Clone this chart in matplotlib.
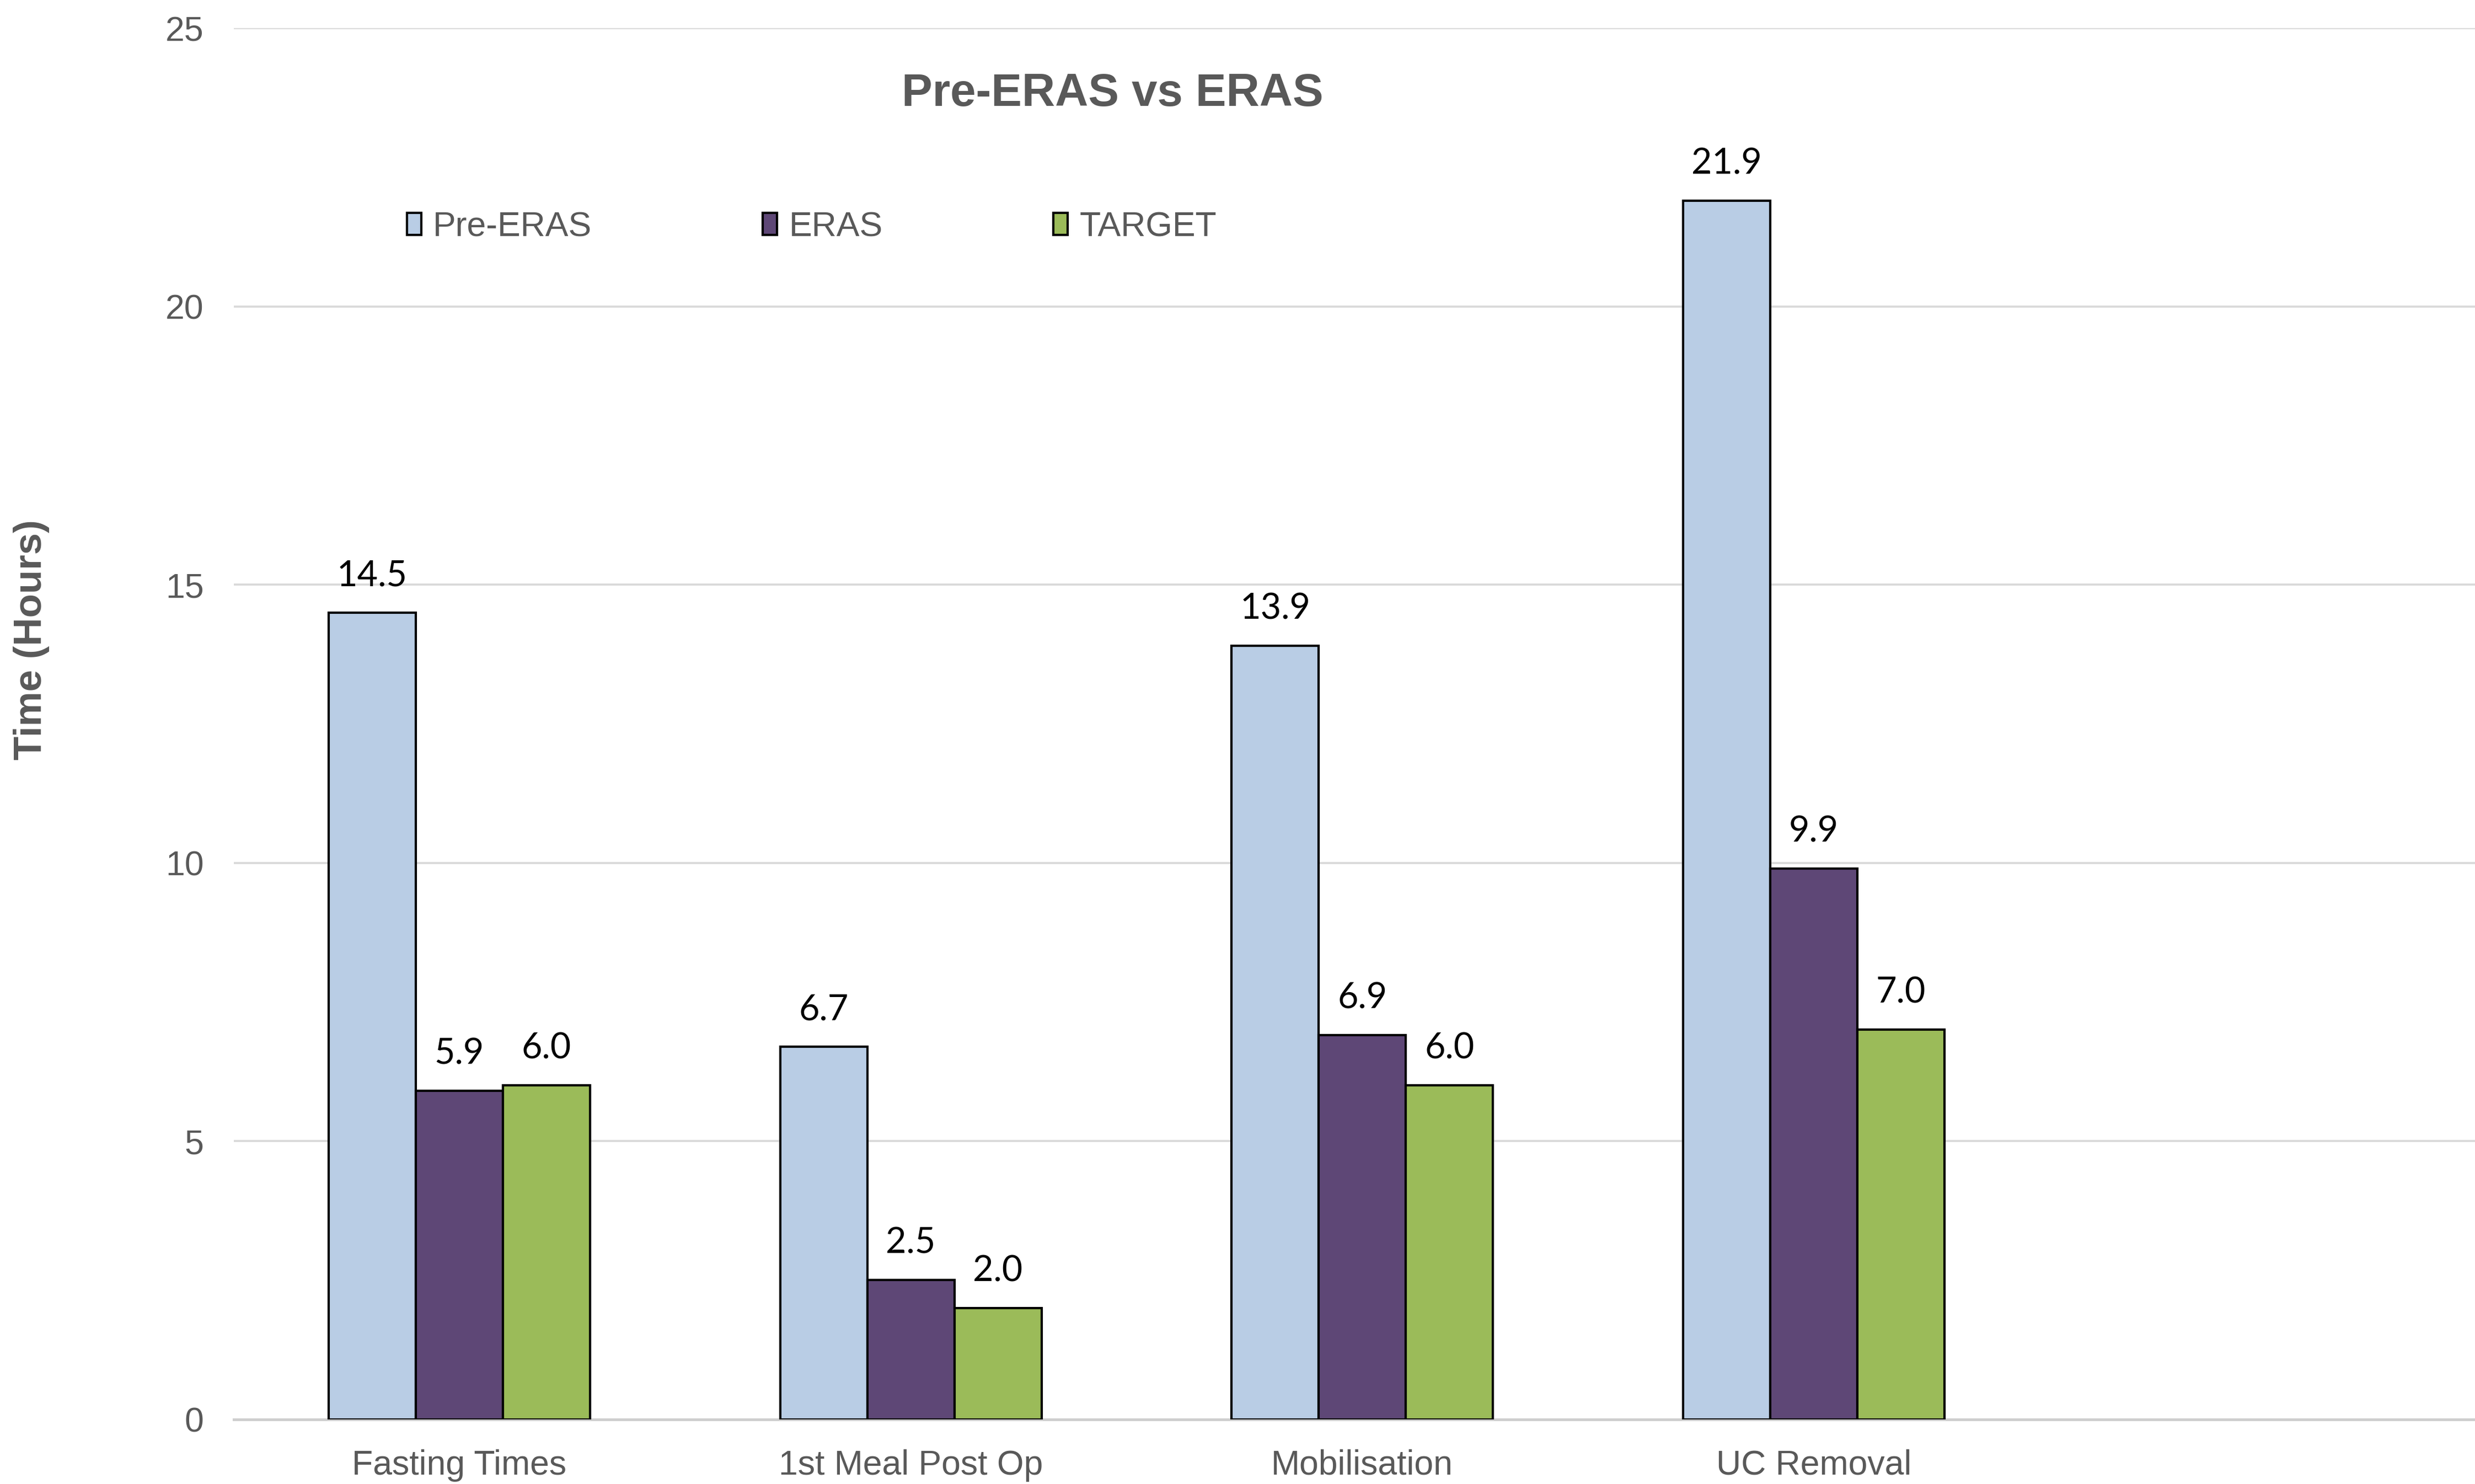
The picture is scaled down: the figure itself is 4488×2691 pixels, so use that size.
import matplotlib
matplotlib.use("Agg")
import matplotlib.pyplot as plt
import numpy as np

# Mean times (hours) per care pathway stage
categories = ['Fasting Times', '1st Meal Post Op', 'Mobilisation', 'UC Removal']
pre_eras = [14.5, 6.7, 13.9, 21.9]
eras = [5.9, 2.5, 6.9, 9.9]
target = [6.0, 2.0, 6.0, 7.0]
series_names = ['Pre-ERAS', 'ERAS', 'TARGET']
y_ticks = [0, 5, 10, 15, 20, 25]

colors = ['#B9CDE5', '#5E4776', '#9BBB59']
grey_text = '#595959'
sans = ['Liberation Sans', 'DejaVu Sans']
label_font = ['Lato', 'DejaVu Sans']

fig = plt.figure(figsize=(14.96, 8.97), dpi=300)
ax = fig.add_axes([0.0944, 0.0436, 0.9056, 0.9374])

x = np.arange(len(categories))
w = 0.193
for i, (name, vals) in enumerate(zip(series_names, [pre_eras, eras, target])):
    bars = ax.bar(x + (i - 1) * w, vals, width=w, color=colors[i],
                  edgecolor='black', linewidth=1.0, label=name, zorder=3)
    for b, v in zip(bars, vals):
        ax.annotate(f'{v:.1f}', (b.get_x() + b.get_width() / 2, v),
                    xytext=(0, 9), textcoords='offset points',
                    ha='center', va='bottom', fontsize=15.5,
                    family=label_font, color='black')

ax.set_xlim(-0.5, 4.465)
ax.set_ylim(0, 25)
ax.set_yticks(y_ticks)
ax.set_xticks(x)
ax.set_xticklabels(categories)
ax.yaxis.grid(True, color='#D9D9D9', linewidth=0.9, zorder=0)
ax.set_axisbelow(True)
for side in ['top', 'right', 'left']:
    ax.spines[side].set_visible(False)
ax.spines['bottom'].set_color('#CFCFCF')
ax.spines['bottom'].set_linewidth(1.2)
ax.tick_params(axis='both', length=0, labelsize=15, labelcolor=grey_text)
ax.tick_params(axis='x', pad=13)
ax.tick_params(axis='y', pad=13)
for lbl in ax.get_xticklabels() + ax.get_yticklabels():
    lbl.set_family(sans)

fig.text(0.4496, 0.937, 'Pre-ERAS vs ERAS', ha='center', va='center',
         fontsize=20, fontweight='bold', color=grey_text, family=sans)
fig.text(0.0127, 0.569, 'Time (Hours)', ha='center', va='center',
         rotation=90, fontsize=17, fontweight='bold', color=grey_text,
         family=sans)

leg = ax.legend(loc='center left', bbox_to_anchor=(0.1644, 0.847),
                bbox_transform=fig.transFigure, ncol=3, frameon=False,
                borderpad=0, borderaxespad=0,
                handlelength=0.42, handleheight=0.62, handletextpad=0.34,
                columnspacing=4.95, prop={'family': sans, 'size': 15})
for t in leg.get_texts():
    t.set_color(grey_text)

fig.savefig('out.png', dpi=300, facecolor='white')
